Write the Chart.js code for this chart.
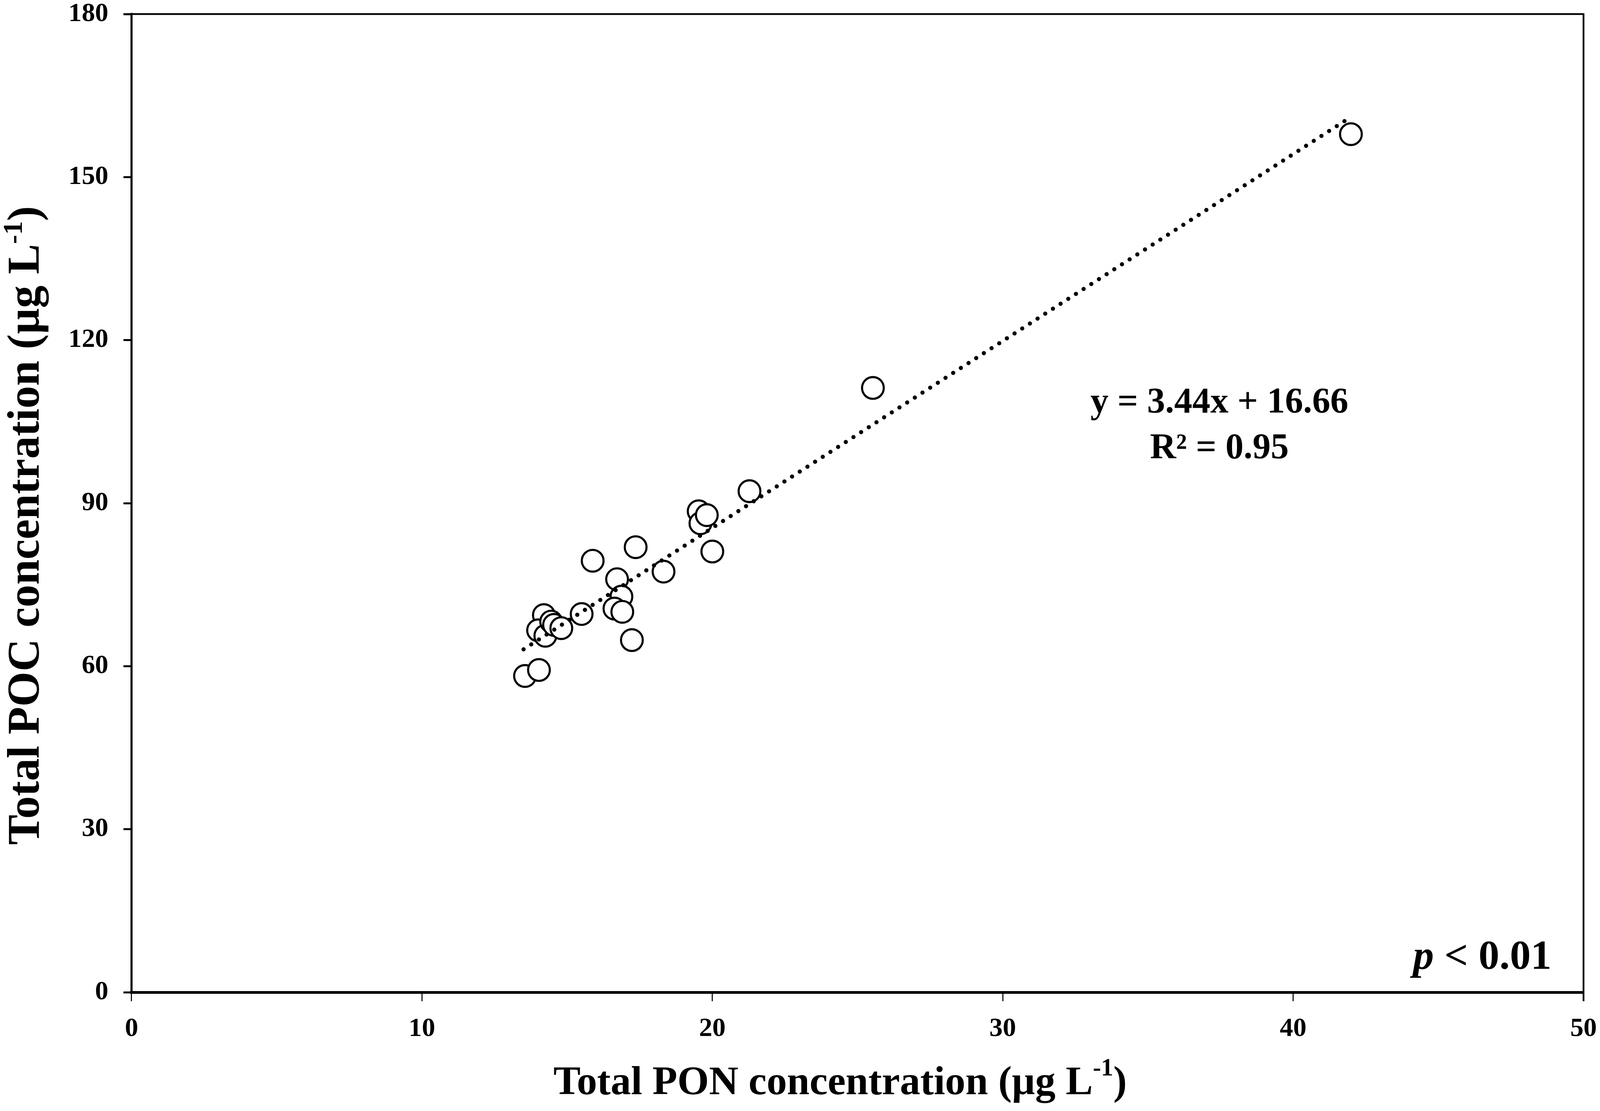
<!DOCTYPE html>
<html>
<head>
<meta charset="utf-8">
<script src="https://cdn.jsdelivr.net/npm/chart.js@4.4.0/dist/chart.umd.min.js"></script>
<style>
html, body { margin: 0; padding: 0; background: #fff; overflow: hidden; }
#wrap { width: 100vw; height: 100vh; position: relative; }
</style>
</head>
<body>
<div id="wrap"><canvas id="chart"></canvas></div>
<script>
// values
const ponValues = [13.55, 14.03, 14.2, 14.0, 14.25, 14.45, 14.55, 14.8, 15.5, 15.88, 16.72, 16.87,
                   16.63, 16.9, 17.23, 17.36, 18.32, 19.53, 19.59, 19.81, 20.0, 21.28, 25.53, 41.99];
const pocValues = [58.2, 59.3, 69.4, 66.6, 65.6, 68.2, 67.6, 67.0, 69.6, 79.4, 76.0, 72.8,
                   70.6, 70.0, 64.8, 81.9, 77.4, 88.5, 86.3, 87.8, 81.1, 92.2, 111.2, 157.9];
const trendX = [13.5, 42.0];
const trendY = [63.1, 161.1];
const xTicks = [0, 10, 20, 30, 40, 50];
const yTicks = [0, 30, 60, 90, 120, 150, 180];

const serif = '"Liberation Serif", "Times New Roman", serif';

// sizes below are measured on the 4562 x 2844 figure
const sx = window.innerWidth / 4562;
const sy = window.innerHeight / 2844;
const S = v => v * sx;
const V = v => v * sy;

const points = ponValues.map((v, i) => ({ x: v, y: pocValues[i] }));
const trend = trendX.map((v, i) => ({ x: v, y: trendY[i] }));

// box frame, titles and the fit text
const extras = {
    id: 'extras',
    afterDraw(chart) {
        const c = chart.ctx;
        const a = chart.chartArea;
        const xs = chart.scales.x, ys = chart.scales.y;
        c.save();
        c.strokeStyle = '#000';
        c.lineWidth = S(5);
        c.beginPath();
        c.moveTo(a.left - S(23), a.top);
        c.lineTo(a.right, a.top);
        c.lineTo(a.right, a.bottom + V(23));
        c.stroke();

        c.fillStyle = '#000';
        c.textBaseline = 'alphabetic';

        // equation
        c.font = 'bold ' + S(103) + 'px ' + serif;
        c.textAlign = 'center';
        c.fillText('y = 3.44x + 16.66', xs.getPixelForValue(37.46), ys.getPixelForValue(106.7));
        c.fillText('R² = 0.95', xs.getPixelForValue(37.46), ys.getPixelForValue(98.3));

        // p value
        c.textAlign = 'right';
        c.font = 'bold ' + S(119) + 'px ' + serif;
        const pr = xs.getPixelForValue(48.9), pb = ys.getPixelForValue(4.3);
        const rest = ' < 0.01';
        const rw = c.measureText(rest).width;
        c.fillText(rest, pr, pb);
        c.font = 'italic bold ' + S(119) + 'px ' + serif;
        c.fillText('p', pr - rw, pb);

        // axis titles with superscript; k scales along the text, rise across it
        function title(main, cx, cy, k, rise) {
            const big = 'bold ' + k(116) + 'px ' + serif;
            const small = 'bold ' + k(70) + 'px ' + serif;
            c.textAlign = 'left';
            c.font = big;
            const w1 = c.measureText(main).width;
            const w3 = c.measureText(')').width;
            c.font = small;
            const w2 = c.measureText('-1').width;
            const x0 = cx - (w1 + w2 + w3) / 2;
            c.font = big;
            c.fillText(main, x0, cy);
            c.fillText(')', x0 + w1 + w2, cy);
            c.font = small;
            c.fillText('-1', x0 + w1, cy - rise(48));
        }
        title('Total PON concentration (µg L', xs.getPixelForValue(24.4), V(2801), S, V);
        c.translate(S(110), ys.getPixelForValue(85.9));
        c.rotate(-Math.PI / 2);
        title('Total POC concentration (µg L', 0, 0, V, S);
        c.restore();
    }
};

new Chart(document.getElementById('chart'), {
    type: 'scatter',
    data: {
        datasets: [
            {
                type: 'line',
                data: trend,
                borderColor: '#000',
                borderWidth: S(12),
                borderDash: [0.01, S(26)],
                borderCapStyle: 'round',
                pointRadius: 0,
                fill: false,
                order: 0
            },
            {
                data: points,
                pointStyle: 'circle',
                pointRadius: S(31),
                pointHoverRadius: S(31),
                pointBorderWidth: S(6),
                pointBackgroundColor: '#fff',
                pointBorderColor: '#000',
                order: 1
            }
        ]
    },
    options: {
        responsive: true,
        maintainAspectRatio: false,
        animation: false,
        layout: { padding: { top: V(36), right: S(47), left: 0, bottom: 0 } },
        plugins: { legend: { display: false }, tooltip: { enabled: false } },
        scales: {
            x: {
                type: 'linear',
                min: 0,
                max: 50,
                afterFit(scale) {
                    scale.height = V(304);
                    scale.paddingLeft = 0;
                    scale.paddingRight = 0;
                },
                afterBuildTicks(scale) { scale.ticks = xTicks.map(v => ({ value: v })); },
                grid: { drawOnChartArea: false, drawTicks: true, tickLength: V(23), color: '#000', lineWidth: S(3) },
                border: { display: true, color: '#000', width: V(7) },
                ticks: { color: '#000', padding: V(30), font: { family: serif, size: S(76), weight: 'bold' } }
            },
            y: {
                type: 'linear',
                min: 0,
                max: 180,
                afterFit(scale) {
                    scale.width = S(375);
                    scale.paddingTop = 0;
                    scale.paddingBottom = 0;
                },
                afterBuildTicks(scale) { scale.ticks = yTicks.map(v => ({ value: v })); },
                grid: { drawOnChartArea: false, drawTicks: true, tickLength: S(23), color: '#000', lineWidth: V(5) },
                border: { display: true, color: '#000', width: S(6) },
                ticks: { color: '#000', padding: S(43), font: { family: serif, size: S(76), weight: 'bold' } }
            }
        }
    },
    plugins: [extras]
});
</script>
</body>
</html>
